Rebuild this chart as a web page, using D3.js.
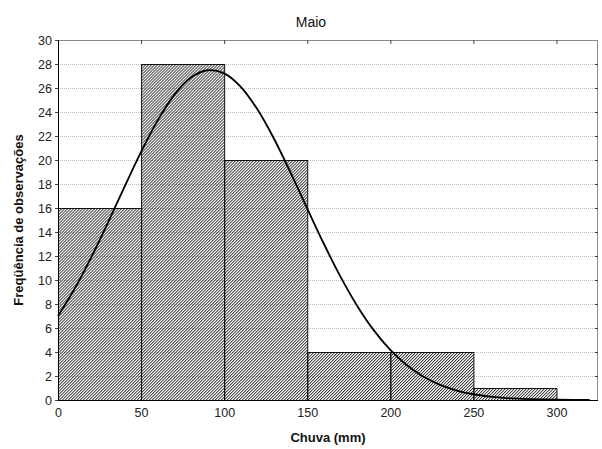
<!DOCTYPE html>
<html lang="en">
<head>
  <meta charset="UTF-8">
  <title>Maio</title>
  <style>
    body { margin: 0; background: #fff; }
    svg { display: block; font-family: "Liberation Sans", Arial, sans-serif; }
    .tick text { fill: #222; font-size: 12.5px; }
    .grid line { stroke: #bdbdbd; stroke-dasharray: 1,1; }
  </style>
</head>
<body>
  <svg id="chart" width="602" height="449"></svg>
  <script src="https://d3js.org/d3.v7.min.js"></script>
  <script>
    // histogram classes (mm) and counts
    const binStarts = [0, 50, 100, 150, 200, 250];
    const binWidth = 50;
    const counts = [16, 28, 20, 4, 4, 1];

    // fitted normal curve
    const curveX = [0, 10, 20, 30, 40, 50, 60, 70, 80, 90, 100, 110, 120, 130, 140, 150, 160,
      170, 180, 190, 200, 210, 220, 230, 240, 250, 260, 270, 280, 290, 300, 310, 320];
    const curveY = [7.0, 9.27, 11.89, 14.77, 17.76, 20.67, 23.3, 25.43, 26.87, 27.48, 27.22, 26.1,
      24.22, 21.77, 18.94, 15.96, 13.02, 10.28, 7.86, 5.82, 4.17, 2.89, 1.94, 1.26, 0.79, 0.48,
      0.29, 0.16, 0.09, 0.05, 0.03, 0.01, 0.0];

    const xTicks = [0, 50, 100, 150, 200, 250, 300];
    const yTicks = d3.range(0, 31, 2);

    const margin = { top: 40, right: 4, bottom: 49, left: 58 };
    const width = 602, height = 449;
    const svg = d3.select("#chart");

    const x = d3.scaleLinear().domain([0, 325]).range([margin.left, width - margin.right]);
    const y = d3.scaleLinear().domain([0, 30]).range([height - margin.bottom, margin.top]);

    // fine hatch pattern for the bars
    const defs = svg.append("defs");
    defs.append("pattern")
      .attr("id", "hatch")
      .attr("patternUnits", "userSpaceOnUse")
      .attr("width", 2.12)
      .attr("height", 4)
      .attr("patternTransform", "rotate(45)")
      .append("rect")
      .attr("width", 0.95)
      .attr("height", 4)
      .attr("fill", "#3a3a3a");

    // dotted grid
    svg.append("g")
      .attr("class", "grid")
      .selectAll("line")
      .data(yTicks.filter(d => d > 0 && d < 30))
      .join("line")
      .attr("x1", x(0))
      .attr("x2", x(325))
      .attr("y1", d => y(d) + 0.5)
      .attr("y2", d => y(d) + 0.5);

    // bars
    svg.append("g")
      .selectAll("rect")
      .data(binStarts)
      .join("rect")
      .attr("x", d => x(d) + 0.5)
      .attr("width", d => x(d + binWidth) - x(d))
      .attr("y", (d, i) => y(counts[i]) + 0.5)
      .attr("height", (d, i) => y(0) - y(counts[i]))
      .attr("fill", "url(#hatch)")
      .attr("stroke", "#111")
      .attr("stroke-width", 1);

    // frame
    svg.append("rect")
      .attr("x", x(0) + 0.5)
      .attr("y", y(30) + 0.5)
      .attr("width", x(325) - x(0) - 1)
      .attr("height", y(0) - y(30))
      .attr("fill", "none")
      .attr("stroke", "#8a8a8a");
    svg.append("line")
      .attr("x1", x(0) + 0.5).attr("x2", x(0) + 0.5)
      .attr("y1", y(30)).attr("y2", y(0) + 1)
      .attr("stroke", "#000");
    svg.append("line")
      .attr("x1", x(0)).attr("x2", x(325))
      .attr("y1", y(0) + 0.5).attr("y2", y(0) + 0.5)
      .attr("stroke", "#000");

    // fitted curve
    const line = d3.line()
      .x(d => x(d[0]))
      .y(d => y(d[1]))
      .curve(d3.curveCatmullRom);
    svg.append("path")
      .datum(curveX.map((v, i) => [v, curveY[i]]))
      .attr("fill", "none")
      .attr("stroke", "#000")
      .attr("stroke-width", 1.8)
      .attr("d", line);

    // axes
    svg.append("g")
      .attr("transform", `translate(${x(0)},0)`)
      .call(d3.axisLeft(y).tickValues(yTicks).tickSize(3).tickPadding(3))
      .call(g => g.select(".domain").remove())
      .call(g => g.selectAll(".tick line").attr("stroke", "#444"));

    svg.append("g")
      .attr("transform", `translate(${width - margin.right},0)`)
      .call(d3.axisLeft(y).tickValues(yTicks.filter(d => d > 0 && d < 30)).tickSize(3).tickFormat(""))
      .call(g => g.select(".domain").remove())
      .call(g => g.selectAll(".tick line").attr("stroke", "#444").attr("x2", -3));

    svg.append("g")
      .attr("transform", `translate(0,${y(0)})`)
      .call(d3.axisBottom(x).tickValues(xTicks).tickSize(0).tickPadding(8))
      .call(g => g.select(".domain").remove());

    svg.append("g")
      .attr("transform", `translate(0,${y(30)})`)
      .call(d3.axisBottom(x).tickValues(xTicks.filter(d => d > 0)).tickSize(4).tickFormat(""))
      .call(g => g.select(".domain").remove())
      .call(g => g.selectAll(".tick line").attr("stroke", "#444"));

    // titles
    svg.append("text")
      .attr("x", 311).attr("y", 27)
      .attr("text-anchor", "middle")
      .attr("font-size", 14)
      .attr("fill", "#111")
      .text("Maio");

    svg.append("text")
      .attr("x", 328).attr("y", 442)
      .attr("text-anchor", "middle")
      .attr("font-size", 13)
      .attr("font-weight", "bold")
      .attr("fill", "#111")
      .text("Chuva (mm)");

    svg.append("text")
      .attr("transform", "translate(23,220) rotate(-90)")
      .attr("text-anchor", "middle")
      .attr("font-size", 13)
      .attr("font-weight", "bold")
      .attr("fill", "#111")
      .text("Freqüência de observações");
  </script>
</body>
</html>
